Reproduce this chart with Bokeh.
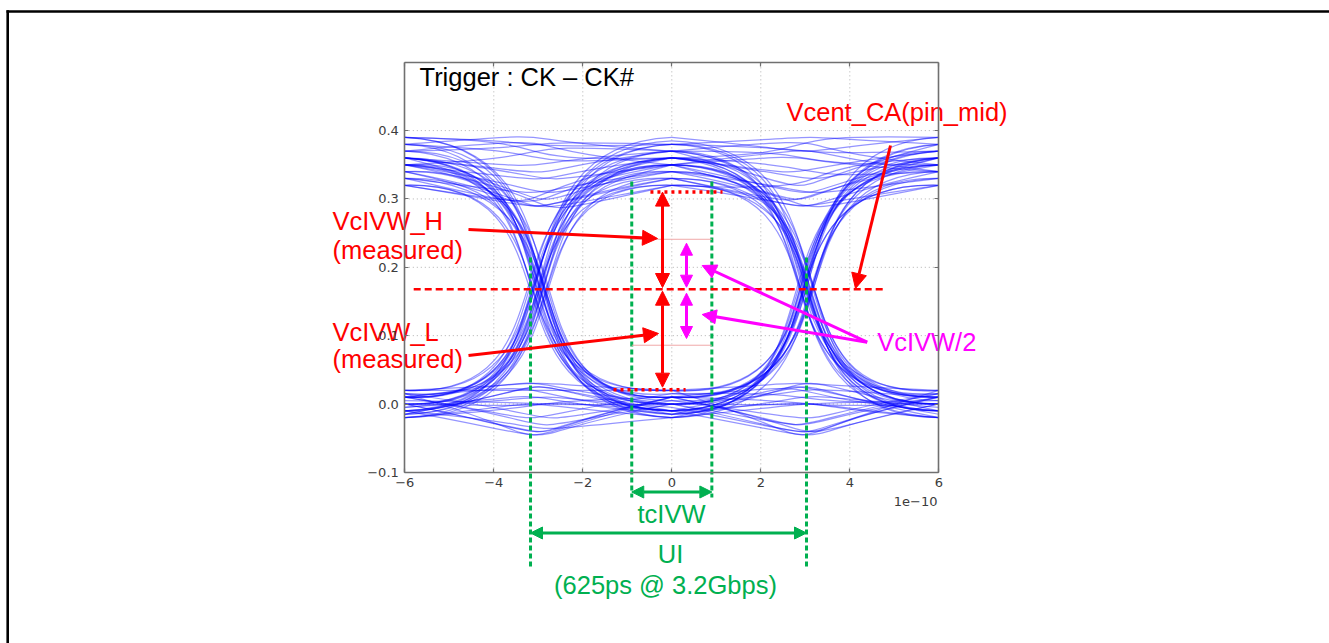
from bokeh.plotting import figure
from bokeh.models import LinearAxis, FixedTicker, Arrow, NormalHead, Range1d
from bokeh.core.properties import value
from bokeh.embed import file_html
from bokeh.resources import INLINE

# ---------------- data ----------------
# eye-diagram traces grouped by bit pattern (bits at t = -6, 0, +6; 1e-10 s).
# each row: level at t=-6, level at left crossing, level at t=0,
#           level at right crossing, level at t=+6 (V), timing jitter (1e-10 s)
X_KNOTS = [-6.0, 0.0, 6.0]
TRACES_HHH = [(0.36, 0.30, 0.35, 0.31, 0.36, 0.10), (0.34, 0.29, 0.33, 0.30, 0.35, -0.20),
              (0.37, 0.38, 0.38, 0.37, 0.37, 0.00), (0.35, 0.33, 0.36, 0.34, 0.34, 0.20),
              (0.38, 0.39, 0.37, 0.32, 0.38, -0.10), (0.33, 0.31, 0.34, 0.29, 0.32, 0.05),
              (0.39, 0.37, 0.36, 0.38, 0.39, -0.15), (0.35, 0.29, 0.32, 0.33, 0.36, 0.25),
              (0.36, 0.35, 0.37, 0.36, 0.35, -0.05), (0.32, 0.30, 0.35, 0.37, 0.34, 0.15)]
TRACES_HHL = [(0.35, 0.31, 0.34, 0.17, 0.00, 0.15), (0.33, 0.30, 0.36, 0.18, 0.01, -0.25),
              (0.37, 0.38, 0.35, 0.17, -0.01, 0.05), (0.36, 0.34, 0.37, 0.18, 0.02, 0.20),
              (0.34, 0.29, 0.32, 0.16, -0.02, -0.10), (0.38, 0.36, 0.36, 0.18, 0.00, 0.00),
              (0.39, 0.38, 0.38, 0.19, 0.01, -0.20), (0.32, 0.29, 0.33, 0.16, -0.01, 0.10),
              (0.36, 0.33, 0.35, 0.17, 0.00, 0.25), (0.35, 0.37, 0.37, 0.18, 0.015, -0.05)]
TRACES_HLH = [(0.35, 0.17, 0.00, 0.17, 0.35, -0.20), (0.37, 0.18, -0.01, 0.18, 0.36, 0.10),
              (0.33, 0.16, 0.01, 0.17, 0.34, 0.25), (0.36, 0.18, 0.02, 0.18, 0.37, -0.05),
              (0.34, 0.17, -0.02, 0.16, 0.33, 0.15), (0.38, 0.18, 0.00, 0.17, 0.35, -0.15),
              (0.39, 0.19, 0.01, 0.18, 0.38, 0.05), (0.32, 0.16, -0.01, 0.16, 0.32, -0.10),
              (0.36, 0.17, 0.015, 0.17, 0.36, 0.20), (0.35, 0.18, -0.015, 0.18, 0.37, 0.00)]
TRACES_HLL = [(0.35, 0.17, 0.00, -0.04, 0.01, 0.05), (0.37, 0.18, 0.01, 0.02, -0.01, -0.10),
              (0.34, 0.17, -0.01, -0.045, 0.00, 0.20), (0.36, 0.18, 0.02, 0.03, 0.02, -0.25),
              (0.33, 0.16, -0.02, 0.00, -0.02, 0.10), (0.38, 0.19, 0.00, -0.03, 0.01, 0.00),
              (0.39, 0.19, 0.01, 0.00, 0.00, 0.15), (0.32, 0.16, -0.01, 0.025, -0.015, -0.20),
              (0.36, 0.18, 0.005, -0.02, 0.015, 0.25), (0.35, 0.17, -0.015, 0.01, -0.005, -0.05)]
TRACES_LHH = [(0.00, 0.17, 0.35, 0.30, 0.36, -0.15), (0.01, 0.18, 0.37, 0.38, 0.35, 0.20),
              (-0.01, 0.17, 0.33, 0.29, 0.34, 0.05), (0.02, 0.18, 0.36, 0.34, 0.37, -0.25),
              (-0.02, 0.16, 0.34, 0.31, 0.33, 0.10), (0.00, 0.18, 0.38, 0.39, 0.38, 0.15),
              (0.01, 0.19, 0.39, 0.37, 0.39, 0.00), (-0.01, 0.16, 0.32, 0.29, 0.32, -0.05),
              (0.015, 0.17, 0.36, 0.33, 0.36, 0.25), (-0.015, 0.17, 0.35, 0.36, 0.34, -0.20)]
TRACES_LHL = [(0.00, 0.17, 0.35, 0.17, 0.00, 0.00), (0.01, 0.18, 0.37, 0.18, -0.01, -0.20),
              (-0.01, 0.16, 0.33, 0.17, 0.01, 0.25), (0.02, 0.18, 0.36, 0.18, 0.02, -0.10),
              (-0.02, 0.17, 0.34, 0.16, -0.02, 0.15), (0.00, 0.18, 0.38, 0.19, 0.00, -0.05),
              (0.01, 0.19, 0.385, 0.19, 0.01, 0.10), (-0.01, 0.16, 0.32, 0.16, -0.01, 0.20),
              (0.015, 0.17, 0.36, 0.17, 0.015, -0.15), (-0.015, 0.17, 0.35, 0.18, 0.005, 0.05)]
TRACES_LLH = [(0.00, -0.04, 0.01, 0.17, 0.35, 0.20), (0.01, 0.02, -0.01, 0.17, 0.37, -0.15),
              (-0.01, -0.045, 0.00, 0.16, 0.33, 0.10), (0.02, 0.03, 0.02, 0.18, 0.36, 0.00),
              (-0.02, 0.00, -0.02, 0.17, 0.34, -0.25), (0.01, -0.03, 0.00, 0.18, 0.38, 0.05),
              (0.00, 0.00, 0.01, 0.19, 0.39, 0.15), (-0.015, 0.025, -0.01, 0.16, 0.32, -0.10),
              (0.015, -0.02, 0.005, 0.17, 0.36, 0.25), (-0.005, 0.01, -0.015, 0.17, 0.35, -0.05)]
TRACES_LLL = [(0.00, -0.04, 0.01, -0.04, 0.00, 0.10), (0.01, 0.03, 0.00, 0.02, 0.01, -0.05),
              (-0.02, 0.00, -0.01, 0.00, -0.02, 0.20), (0.02, 0.02, 0.02, -0.045, 0.02, -0.10),
              (-0.01, -0.035, -0.02, 0.03, -0.01, 0.00), (0.005, 0.00, 0.00, 0.00, 0.005, 0.15),
              (0.015, -0.045, 0.01, -0.03, 0.015, -0.20), (-0.015, 0.025, -0.015, 0.025, -0.02, 0.05),
              (0.01, -0.02, 0.015, 0.01, 0.00, -0.15), (-0.005, 0.01, -0.005, -0.04, 0.01, 0.25)]

X_LIM = (-6, 6)
Y_LIM = (-0.1, 0.5)
X_TICKS = [-6, -4, -2, 0, 2, 4, 6]
X_TICK_LABELS = ["\u22126", "\u22124", "\u22122", "0", "2", "4", "6"]
Y_TICKS = [-0.1, 0.0, 0.1, 0.2, 0.3, 0.4]
Y_TICK_LABELS = ["\u22120.1", "0.0", "0.1", "0.2", "0.3", "0.4"]
X_GRID = [-4, -2, 0, 2, 4]
Y_GRID = [0.0, 0.1, 0.2, 0.3, 0.4]

# spec annotations (V and 1e-10 s)
VCENT = 0.168
VCENT_SPAN = (-5.80, 4.80)
VCIVW_H_LEVEL = 0.31
VCIVW_H_SPAN = (-0.48, 1.14)
VCIVW_L_LEVEL = 0.021
VCIVW_L_SPAN = (-1.31, 0.31)
VCIVW_HALF_LEVELS = [0.241, 0.086]
TCIVW = (-0.9, 0.9)
UI = (-3.175, 3.027)

# ---------------- page geometry ----------------
W, H = 1329, 643
PX0, SX = 671.3, 44.5      # page x of t=0, px per 1e-10 s
PY0, SY = 403.5, 683.5     # page y of 0 V, px per V


def dx(px):
    return (px - PX0) / SX


def dy(py):
    return (PY0 - py) / SY


p = figure(width=W, height=H, output_backend="svg", toolbar_location=None,
           title=None, x_axis_type=None, y_axis_type=None,
           x_range=Range1d(dx(0), dx(W)), y_range=Range1d(dy(H), dy(0)),
           min_border=0, min_border_left=0, min_border_right=0,
           min_border_top=0, min_border_bottom=0)
p.outline_line_color = None
p.background_fill_color = "white"
p.border_fill_color = "white"

# grid
p.segment(x0=X_GRID, y0=[Y_LIM[0]] * len(X_GRID), x1=X_GRID, y1=[Y_LIM[1]] * len(X_GRID),
          line_color="#b0b0b0", line_width=1, line_dash="1 3")
p.segment(x0=[X_LIM[0]] * len(Y_GRID), y0=Y_GRID, x1=[X_LIM[1]] * len(Y_GRID), y1=Y_GRID,
          line_color="#b0b0b0", line_width=1, line_dash="1 3")

# traces as bezier segments between sample knots
K = 4.4
ALL_TRACES = (TRACES_HHH + TRACES_HHL + TRACES_HLH + TRACES_HLL +
              TRACES_LHH + TRACES_LHL + TRACES_LLH + TRACES_LLL)
bx0, by0, bx1, by1, cx0, cy0, cx1, cy1 = [], [], [], [], [], [], [], []
for a, ma, b, mb, c, j in ALL_TRACES:
    for xs, xe, ys, m, ye in ((X_KNOTS[0], X_KNOTS[1], a, ma, b),
                              (X_KNOTS[1], X_KNOTS[2], b, mb, c)):
        d = (m - (ys + ye) / 2) / 0.75
        bx0.append(xs); by0.append(ys); bx1.append(xe); by1.append(ye)
        cx0.append(xs + K + j); cy0.append(ys + d)
        cx1.append(xe - K + j); cy1.append(ye + d)
p.bezier(x0=bx0, y0=by0, x1=bx1, y1=by1, cx0=cx0, cy0=cy0, cx1=cx1, cy1=cy1,
         line_color="#0000ff", line_alpha=0.42, line_width=1.25)

# axes (matplotlib-like box)
SPINE = "#707070"
TICK_FONT = "DejaVu Sans"


def add_axis(side, loc, bounds, ticks, labels, show):
    ax = LinearAxis(fixed_location=loc, bounds=bounds,
                    ticker=FixedTicker(ticks=ticks, minor_ticks=[]),
                    axis_line_color=SPINE, axis_line_width=1.6,
                    major_tick_line_color=SPINE, major_tick_line_width=1.2,
                    major_tick_in=4, major_tick_out=0,
                    minor_tick_line_color=None,
                    major_label_text_font=TICK_FONT,
                    major_label_text_font_size="13px",
                    major_label_text_color="#3c3c3c" if show else None,
                    major_label_standoff=6)
    if show:
        ax.major_label_overrides = {t: l for t, l in zip(ticks, labels)}
    p.add_layout(ax, side)


add_axis("left", X_LIM[0], Y_LIM, Y_TICKS, Y_TICK_LABELS, True)
add_axis("below", Y_LIM[0], X_LIM, X_TICKS, X_TICK_LABELS, True)
add_axis("right", X_LIM[1], Y_LIM, Y_TICKS, Y_TICK_LABELS, False)
add_axis("above", Y_LIM[1], X_LIM, X_TICKS, X_TICK_LABELS, False)

p.text(x=[X_LIM[1] - 0.03], y=[dy(500.7)], text=["1e\u221210"], text_align="right",
       text_baseline="alphabetic", text_font=value(TICK_FONT), text_font_size="13px",
       text_color="#3c3c3c")

# ---------------- annotations ----------------
RED = "#ff0000"
MAG = "#ff00ff"
GRN = "#00b050"
FONT = value("Liberation Sans")
FS = "25.5px"

# green timing markers
p.segment(x0=list(TCIVW), y0=[dy(181)] * 2, x1=list(TCIVW), y1=[dy(497)] * 2,
          line_color=GRN, line_width=3, line_dash="5 3")
p.segment(x0=list(UI), y0=[dy(257)] * 2, x1=list(UI), y1=[dy(566)] * 2,
          line_color=GRN, line_width=3, line_dash="5 3")

# thin VcIVW/2 limit lines
p.segment(x0=[TCIVW[0]] * 2, y0=VCIVW_HALF_LEVELS, x1=[TCIVW[1]] * 2, y1=VCIVW_HALF_LEVELS,
          line_color="#f0a8a8", line_width=1)

# measured VcIVW limits
p.segment(x0=[VCIVW_H_SPAN[0], VCIVW_L_SPAN[0]], y0=[VCIVW_H_LEVEL, VCIVW_L_LEVEL],
          x1=[VCIVW_H_SPAN[1], VCIVW_L_SPAN[1]], y1=[VCIVW_H_LEVEL, VCIVW_L_LEVEL],
          line_color=RED, line_width=3.5, line_dash="3 4")

# Vcent line
p.segment(x0=[VCENT_SPAN[0]], y0=[VCENT], x1=[VCENT_SPAN[1]], y1=[VCENT],
          line_color=RED, line_width=2.5, line_dash="7 4")


def arrow(x0, y0, x1, y1, color, width, size, both=False):
    head = dict(size=size, fill_color=color, line_color=color, line_width=1)
    p.add_layout(Arrow(x_start=x0, y_start=y0, x_end=x1, y_end=y1,
                       line_color=color, line_width=width,
                       end=NormalHead(**head),
                       start=NormalHead(**head) if both else None))


ARX = dx(662.0)
arrow(ARX, VCIVW_H_LEVEL, ARX, dy(287), RED, 3, 14, both=True)
arrow(ARX, dy(290.7), ARX, dy(386.7), RED, 3, 14, both=True)
AMX = dx(686.0)
arrow(AMX, dy(242.7), AMX, dy(286.7), MAG, 3, 12, both=True)
arrow(AMX, dy(292.7), AMX, dy(338), MAG, 3, 12, both=True)

# leader arrows
arrow(dx(468), dy(229), dx(657), dy(238), RED, 3, 15)
arrow(dx(468), dy(355), dx(658), dy(333), RED, 3, 15)
arrow(dx(890), dy(145), dx(855), dy(288), RED, 3, 15)
arrow(dx(866.7), dy(341.7), dx(701.7), dy(265), MAG, 3, 14)
arrow(dx(866.7), dy(341.7), dx(701.7), dy(314), MAG, 3, 14)

# timing arrows
arrow(TCIVW[0], dy(491.5), TCIVW[1], dy(491.5), GRN, 3, 12, both=True)
arrow(UI[0], dy(532.5), UI[1], dy(532.5), GRN, 3, 12, both=True)

# outer frame (top and left; right and bottom fall outside the picture)
p.segment(x0=[dx(6)], y0=[dy(11)], x1=[dx(W)], y1=[dy(11)], line_color="black", line_width=2.6)
p.segment(x0=[dx(7.2)], y0=[dy(9.7)], x1=[dx(7.2)], y1=[dy(H)], line_color="black", line_width=2.6)

# texts (baselines in page px)
TX = dx(332)
p.text(x=[dx(419)], y=[dy(76)], text=["Trigger : CK \u2013 CK#"], text_align="left",
       text_baseline="alphabetic", text_font=FONT, text_font_size=FS, text_color="black")
p.text(x=[dx(786), TX, TX, TX, TX], y=[dy(111), dy(220), dy(249.5), dy(331), dy(358)],
       text=["Vcent_CA(pin_mid)", "VcIVW_H", "(measured)", "VcIVW_L", "(measured)"],
       text_align="left", text_baseline="alphabetic", text_font=FONT, text_font_size=FS,
       text_color=RED)
p.text(x=[dx(876.7)], y=[dy(341)], text=["VcIVW/2"], text_align="left",
       text_baseline="alphabetic", text_font=FONT, text_font_size=FS, text_color=MAG)
p.text(x=[dx(671), dx(670), dx(665)], y=[dy(513), dy(553), dy(584)],
       text=["tcIVW", "UI", "(625ps @ 3.2Gbps)"], text_align="center",
       text_baseline="alphabetic", text_font=FONT, text_font_size=FS, text_color=GRN)

open("out.html", "w").write(file_html(p, INLINE))
